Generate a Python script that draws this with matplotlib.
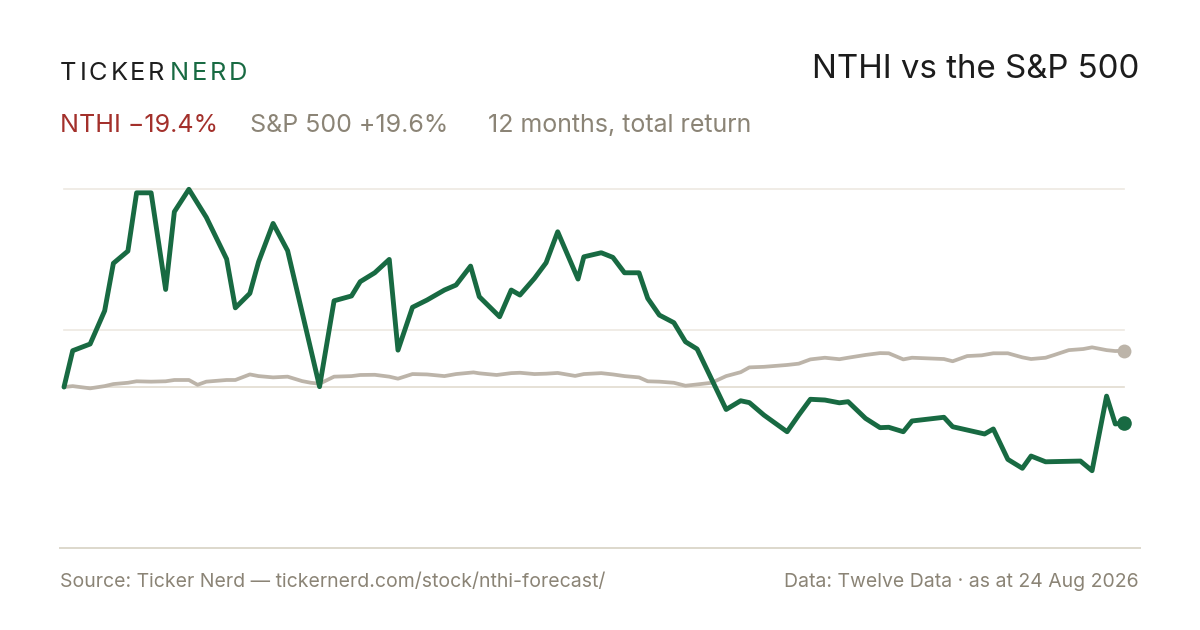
import matplotlib
matplotlib.use("Agg")
import matplotlib.pyplot as plt
from matplotlib.lines import Line2D

# 12 months of total return, % from start (day offsets)
nthi_days = [0, 3, 9, 14, 17, 22, 25, 30, 35, 38, 43, 49, 56, 59, 64, 67, 72, 77,
             88, 93, 99, 102, 107, 112, 115, 120, 125, 131, 135, 140, 143, 150, 154,
             157, 162, 166, 170, 177, 179, 185, 189, 193, 198, 201, 205, 210, 214,
             218, 228, 233, 236, 241, 249, 253, 257, 262, 267, 270, 276, 281, 284,
             289, 292, 303, 306, 317, 320, 325, 330, 333, 338, 350, 354, 359, 362, 365]
nthi_ret = [0.0, 19.6, 23.2, 41.1, 66.7, 73.3, 104.7, 104.7, 52.6, 94.5, 106.6, 91.5,
            69.0, 42.7, 50.5, 67.5, 88.2, 73.5, 0.2, 46.5, 49.1, 56.8, 61.6, 68.8,
            19.9, 43.0, 46.9, 52.3, 55.0, 65.2, 48.7, 37.9, 52.3, 49.6, 58.6, 67.0,
            83.7, 58.2, 70.2, 72.4, 69.9, 61.6, 61.6, 47.8, 38.8, 34.7, 24.4, 20.5,
            -12.1, -7.4, -8.4, -15.1, -24.1, -15.1, -6.6, -7.0, -8.5, -7.9, -16.9,
            -21.9, -21.7, -24.1, -18.3, -16.3, -21.4, -25.3, -22.6, -39.0, -43.8,
            -37.2, -40.3, -39.9, -45.1, -4.9, -19.9, -19.4]

spx_days = [0, 3, 9, 14, 17, 22, 25, 30, 35, 38, 43, 46, 49, 56, 59, 64, 67, 72, 77,
            82, 85, 88, 93, 99, 102, 107, 112, 115, 120, 125, 131, 135, 141, 143, 149,
            154, 157, 162, 166, 170, 176, 179, 185, 189, 193, 198, 201, 205, 210, 214,
            218, 223, 228, 233, 236, 241, 249, 253, 257, 262, 267, 270, 276, 281, 284,
            289, 292, 303, 306, 311, 316, 320, 325, 330, 333, 338, 341, 346, 351, 354,
            359, 362, 365]
spx_ret = [0.0, 0.5, -0.7, 0.5, 1.6, 2.3, 3.1, 2.9, 3.1, 3.8, 3.8, 1.2, 2.9, 3.8, 3.8,
           6.8, 5.9, 5.2, 5.6, 3.2, 2.3, 1.8, 5.6, 5.9, 6.5, 6.6, 5.6, 4.5, 7.0, 6.8,
           5.9, 7.0, 7.9, 7.4, 6.5, 7.5, 7.7, 7.0, 7.2, 7.6, 6.0, 7.0, 7.5, 6.8, 5.9,
           5.2, 3.1, 2.9, 2.3, 0.7, 1.4, 2.3, 5.9, 8.0, 10.6, 10.9, 11.9, 12.6, 14.9,
           15.8, 15.0, 15.8, 17.3, 18.3, 18.2, 14.9, 15.8, 15.1, 13.9, 16.7, 17.1,
           18.2, 18.2, 16.0, 15.1, 15.8, 17.3, 19.9, 20.5, 21.4, 19.9, 19.4, 19.6]

title = "NTHI vs the S&P 500"
sub_parts = [("NTHI \u221219.4%", "#a3302b"), ("S&P 500 +19.6%", "#8b8476"),
             ("12 months, total return", "#8b8476")]
sub_x = [60, 250, 488]
source_note = "Source: Ticker Nerd \u2014 tickernerd.com/stock/nthi-forecast/"
data_note = "Data: Twelve Data \u00b7 as at 24 Aug 2026"

GREEN = "#186a42"
SPX_GREY = "#bcb4a9"
FONT = ["Inter", "DejaVu Sans"]
W, H = 1200, 630

fig = plt.figure(figsize=(12, 6.3), dpi=100)
fig.patch.set_facecolor("white")


def fx(x):
    return x / W


def fy(y):
    return 1 - y / H


# chart area: top edge = peak, bottom edge = trough
top_px, bot_px = 189.3, 470.7
ax = fig.add_axes([fx(64), fy(bot_px), fx(1124) - fx(64), (bot_px - top_px) / H])
ax.set_xlim(0, 365)
y_hi, y_lo = max(nthi_ret), min(nthi_ret)
ax.set_ylim(y_lo, y_hi)
ax.axis("off")

for v in (y_hi, (y_hi + y_lo) / 2):
    ax.axhline(v, color="#ede9e2", lw=1.2, zorder=1, clip_on=False)
ax.axhline(0, color="#e2dbcf", lw=1.2, zorder=1, clip_on=False)

ax.plot(spx_days, spx_ret, color=SPX_GREY, lw=2.7, solid_joinstyle="round",
        solid_capstyle="round", zorder=2, clip_on=False)
ax.plot(nthi_days, nthi_ret, color=GREEN, lw=3.5, solid_joinstyle="round",
        solid_capstyle="round", zorder=3, clip_on=False)
ax.plot(spx_days[-1], spx_ret[-1], "o", color=SPX_GREY, ms=10, mew=0, zorder=4, clip_on=False)
ax.plot(nthi_days[-1], nthi_ret[-1], "o", color=GREEN, ms=10.5, mew=0, zorder=5, clip_on=False)

# bottom rule
fig.add_artist(Line2D([fx(60), fx(1140)], [fy(548), fy(548)], color="#ddd8cc", lw=1.4))

# logo with letter tracking
renderer = fig.canvas.get_renderer()
x = 60
for word, col in (("TICKER", "#1e1e1e"), ("NERD", GREEN)):
    for ch in word:
        t = fig.text(fx(x), fy(79.5), ch, color=col, fontsize=18.3, family=FONT,
                     va="baseline", ha="left")
        x += t.get_window_extent(renderer).width + 2.8
    x += 2.5

fig.text(fx(1139), fy(78.5), title, color="#1c1c1c", fontsize=23.8, family=FONT,
         va="baseline", ha="right")

for (s, col), sx in zip(sub_parts, sub_x):
    fig.text(fx(sx), fy(132), s, color=col, fontsize=18, family=FONT,
             va="baseline", ha="left")

fig.text(fx(60), fy(587), source_note, color="#8b8476", fontsize=14, family=FONT,
         va="baseline", ha="left")
fig.text(fx(1139), fy(587), data_note, color="#8b8476", fontsize=14, family=FONT,
         va="baseline", ha="right")

fig.savefig("out.png", dpi=100, facecolor="white")
